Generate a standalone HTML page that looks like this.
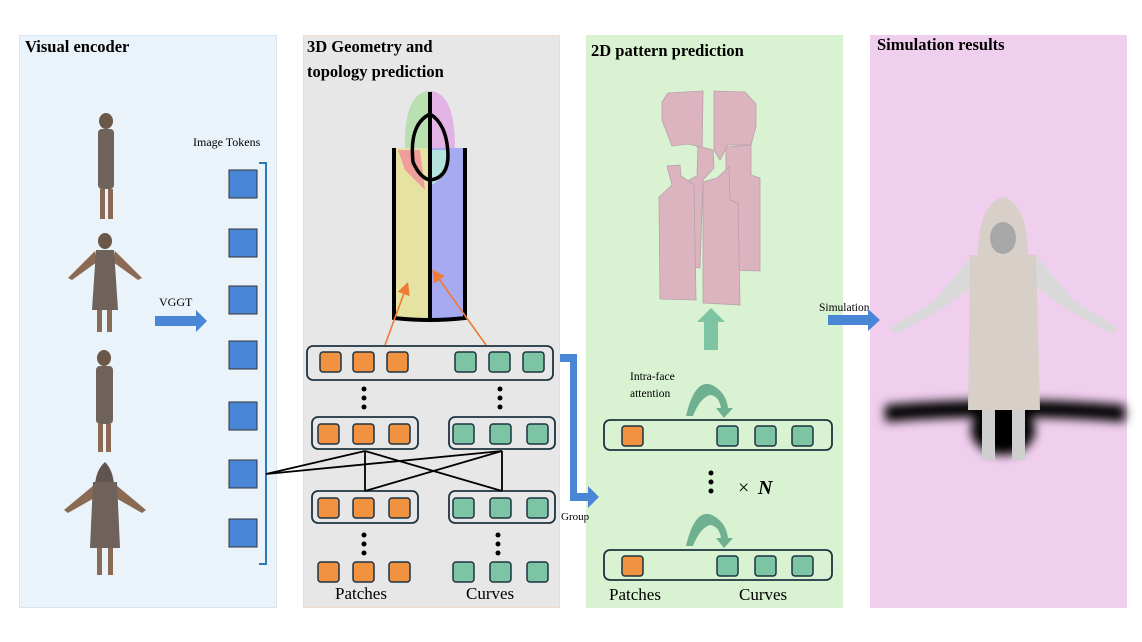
<!DOCTYPE html>
<html><head><meta charset="utf-8"><style>
html,body{margin:0;padding:0;background:#fff;}
svg{display:block;font-family:"Liberation Serif",serif;}
</style></head><body>
<svg width="1142" height="642" viewBox="0 0 1142 642" xmlns="http://www.w3.org/2000/svg">
<defs>
<marker id="oa" markerWidth="8" markerHeight="8" refX="6" refY="4" orient="auto"><path d="M0,0 L8,4 L0,8 z" fill="#ee7b35"/></marker>
<filter id="bl" x="-20%" y="-50%" width="140%" height="200%"><feGaussianBlur stdDeviation="5"/></filter>
</defs>
<!-- panels -->
<rect x="19.5" y="35.5" width="257" height="572" fill="#eaf2fa" stroke="#d6e6f5"/>
<rect x="303.5" y="35.5" width="256" height="572" fill="#e7e7e7" stroke="#f7d9c8"/>
<rect x="586" y="35" width="257" height="573" fill="#d8f2d2"/>
<rect x="870" y="35" width="257" height="573" fill="#f0cfee"/>
<g font-weight="bold" font-size="16.5" fill="#000">
<text x="25" y="52">Visual encoder</text>
<text x="307" y="52">3D Geometry and</text>
<text x="307" y="77">topology prediction</text>
<text x="591" y="56">2D pattern prediction</text>
<text x="877" y="50">Simulation results</text>
</g>
<!-- left figures -->
<g fill="#6e625a">
<ellipse cx="106" cy="121" rx="7" ry="8" fill="#6b5848"/>
<rect x="98" y="129" width="16" height="60" rx="4"/>
<rect x="100" y="189" width="5" height="30" fill="#8a6a55"/>
<rect x="108" y="189" width="5" height="30" fill="#8a6a55"/>
<ellipse cx="105" cy="241" rx="7" ry="8" fill="#6b5848"/>
<path d="M95,251 L68,278 L72,280 L97,262 Z" fill="#8a6a55"/>
<path d="M115,251 L142,278 L138,280 L113,262 Z" fill="#8a6a55"/>
<path d="M96,250 L114,250 L118,310 L92,310 Z"/>
<rect x="97" y="310" width="5" height="22" fill="#8a6a55"/>
<rect x="107" y="310" width="5" height="22" fill="#8a6a55"/>
<ellipse cx="104" cy="358" rx="7" ry="8" fill="#6b5848"/>
<rect x="96" y="366" width="17" height="58" rx="4"/>
<rect x="98" y="424" width="5" height="28" fill="#8a6a55"/>
<rect x="106" y="424" width="5" height="28" fill="#8a6a55"/>
<path d="M105,462 Q96,470 95,485 L114,485 Q113,470 105,462 Z" fill="#5f5450"/>
<path d="M94,485 L64,510 L68,513 L96,497 Z" fill="#8a6a55"/>
<path d="M116,485 L146,510 L142,513 L114,497 Z" fill="#8a6a55"/>
<path d="M93,482 L117,482 L120,548 L90,548 Z"/>
<rect x="97" y="548" width="5" height="27" fill="#8a6a55"/>
<rect x="108" y="548" width="5" height="27" fill="#8a6a55"/>
</g>
<text x="193" y="146" font-size="12">Image Tokens</text>
<!-- VGGT arrow -->
<text x="159" y="306" font-size="12">VGGT</text>
<path d="M155,316 L196,316 L196,310 L207,321 L196,332 L196,326 L155,326 Z" fill="#4a86d6"/>
<!-- image tokens -->
<g fill="#4a86d6" stroke="#333" stroke-width="1">
<rect x="229" y="170" width="28" height="28"/>
<rect x="229" y="229" width="28" height="28"/>
<rect x="229" y="286" width="28" height="28"/>
<rect x="229" y="341" width="28" height="28"/>
<rect x="229" y="402" width="28" height="28"/>
<rect x="229" y="460" width="28" height="28"/>
<rect x="229" y="519" width="28" height="28"/>
</g>
<path d="M259,163 L266,163 L266,564 L259,564" fill="none" stroke="#2a7bb5" stroke-width="2"/>
<!-- 3D garment -->
<g>
<path d="M405,148 Q404,92 430,91 Q455,92 455,148 Z" fill="#e3b3e5"/>
<path d="M405,148 Q404,92 430,91 L430,148 Z" fill="#b8e0b0"/>
<path d="M394,148 L430,148 L430,318 L395,318 Z" fill="#e6e3a2"/>
<path d="M430,148 L465,148 L465,318 L430,318 Z" fill="#a6aaf0"/>
<path d="M398,150 L420,150 L425,190 L405,170 Z" fill="#ee9f9b"/>
<path d="M430,150 L448,150 L445,175 L432,185 Z" fill="#b4e3dc"/>
<path d="M394,148 L394,318 Q430,322 465,318 L465,148" fill="none" stroke="#000" stroke-width="4"/>
<path d="M430,92 L430,318" stroke="#000" stroke-width="4"/>
<path d="M430,114 Q409,124 413,162 Q420,178 430,180 Q448,178 448,155 Q447,124 430,114" fill="none" stroke="#000" stroke-width="3.5"/>
<line x1="385" y1="345" x2="407" y2="285" stroke="#ee7b35" stroke-width="1.6" marker-end="url(#oa)"/>
<line x1="486" y1="345" x2="434" y2="272" stroke="#ee7b35" stroke-width="1.6" marker-end="url(#oa)"/>
</g>
<!-- token boxes panel 2 -->
<g fill="none" stroke="#1d3340" stroke-width="1.8">
<rect x="307" y="346" width="246" height="34" rx="6"/>
<rect x="312" y="417" width="106" height="32" rx="6"/>
<rect x="449" y="417" width="106" height="32" rx="6"/>
<rect x="312" y="491" width="106" height="32" rx="6"/>
<rect x="449" y="491" width="106" height="32" rx="6"/>
</g>
<g stroke="#1d3340" stroke-width="1.5">
<g fill="#f0923f">
<rect x="320" y="352" width="21" height="20" rx="3"/><rect x="353" y="352" width="21" height="20" rx="3"/><rect x="387" y="352" width="21" height="20" rx="3"/>
<rect x="318" y="424" width="21" height="20" rx="3"/><rect x="353" y="424" width="21" height="20" rx="3"/><rect x="389" y="424" width="21" height="20" rx="3"/>
<rect x="318" y="498" width="21" height="20" rx="3"/><rect x="353" y="498" width="21" height="20" rx="3"/><rect x="389" y="498" width="21" height="20" rx="3"/>
<rect x="318" y="562" width="21" height="20" rx="3"/><rect x="353" y="562" width="21" height="20" rx="3"/><rect x="389" y="562" width="21" height="20" rx="3"/>
<rect x="622" y="426" width="21" height="20" rx="3"/>
<rect x="622" y="556" width="21" height="20" rx="3"/>
</g>
<g fill="#7dc4a4">
<rect x="455" y="352" width="21" height="20" rx="3"/><rect x="489" y="352" width="21" height="20" rx="3"/><rect x="523" y="352" width="21" height="20" rx="3"/>
<rect x="453" y="424" width="21" height="20" rx="3"/><rect x="490" y="424" width="21" height="20" rx="3"/><rect x="527" y="424" width="21" height="20" rx="3"/>
<rect x="453" y="498" width="21" height="20" rx="3"/><rect x="490" y="498" width="21" height="20" rx="3"/><rect x="527" y="498" width="21" height="20" rx="3"/>
<rect x="453" y="562" width="21" height="20" rx="3"/><rect x="490" y="562" width="21" height="20" rx="3"/><rect x="527" y="562" width="21" height="20" rx="3"/>
<rect x="717" y="426" width="21" height="20" rx="3"/><rect x="755" y="426" width="21" height="20" rx="3"/><rect x="792" y="426" width="21" height="20" rx="3"/>
<rect x="717" y="556" width="21" height="20" rx="3"/><rect x="755" y="556" width="21" height="20" rx="3"/><rect x="792" y="556" width="21" height="20" rx="3"/>
</g>
</g>
<g fill="#000">
<circle cx="364" cy="389" r="2.5"/><circle cx="364" cy="398" r="2.5"/><circle cx="364" cy="407" r="2.5"/>
<circle cx="500" cy="389" r="2.5"/><circle cx="500" cy="398" r="2.5"/><circle cx="500" cy="407" r="2.5"/>
<circle cx="364" cy="535" r="2.5"/><circle cx="364" cy="544" r="2.5"/><circle cx="364" cy="553" r="2.5"/>
<circle cx="498" cy="535" r="2.5"/><circle cx="498" cy="544" r="2.5"/><circle cx="498" cy="553" r="2.5"/>
<circle cx="711" cy="473" r="2.5"/><circle cx="711" cy="482" r="2.5"/><circle cx="711" cy="491" r="2.5"/>
</g>
<!-- connections -->
<g stroke="#000" stroke-width="1.8" fill="none">
<path d="M266,474 L365,451 M266,474 L502,451"/>
<path d="M365,451 L365,491 M502,451 L502,491 M365,451 L502,491 M502,451 L365,491"/>
</g>
<text x="335" y="599" font-size="17">Patches</text>
<text x="466" y="599" font-size="17">Curves</text>
<!-- group arrow -->
<path d="M560,354 L577,354 L577,493 L588,493 L588,486 L599,497 L588,508 L588,501 L570,501 L570,362 L560,362 Z" fill="#4a86d6"/>
<text x="561" y="520" font-size="11">Group</text>
<!-- pattern pieces -->
<g fill="#dcb4c0" stroke="#b8a0a8" stroke-width="0.8">
<path d="M668,93 L703,91 L702,158 L697,146 L688,144 L672,146 L662,120 L662,102 Z"/>
<path d="M714,91 L745,92 L756,104 L756,126 L751,145 L728,145 L720,160 L714,150 Z"/>
<path d="M726,147 L751,145 L751,175 L760,178 L760,271 L726,270 Z"/>
<path d="M698,146 L713,150 L714,168 L703,180 L700,268 L689,267 L689,180 L697,176 Z"/>
<path d="M667,166 L680,165 L681,176 L694,185 L696,300 L660,299 L659,197 L672,185 Z"/>
<path d="M703,182 L717,178 L729,167 L730,200 L738,203 L740,305 L703,303 Z"/>
</g>
<path d="M704,350 L718,350 L718,322 L725,322 L711,308 L697,322 L704,322 Z" fill="#7dc4a4"/>
<!-- panel 3 boxes -->
<g fill="none" stroke="#1d3340" stroke-width="1.8">
<rect x="604" y="420" width="228" height="30" rx="6"/>
<rect x="604" y="550" width="228" height="30" rx="6"/>
</g>
<g fill="#6fb091">
<path d="M686,416 Q695,378 712,385 Q726,392 728,408 L733,408 L724,418 L716,408 L721,408 Q719,396 710,395 Q700,398 693,416 Z"/>
<path d="M686,546 Q695,508 712,515 Q726,522 728,538 L733,538 L724,548 L716,538 L721,538 Q719,526 710,525 Q700,528 693,546 Z"/>
</g>
<text x="630" y="380" font-size="11.5">Intra-face</text>
<text x="630" y="397" font-size="11.5">attention</text>
<text x="738" y="494" font-size="20">×</text>
<text x="758" y="494" font-size="20" font-weight="bold" font-style="italic">N</text>
<text x="609" y="600" font-size="17">Patches</text>
<text x="739" y="600" font-size="17">Curves</text>
<!-- simulation arrow -->
<text x="819" y="311" font-size="11.5">Simulation</text>
<path d="M828,315 L868,315 L868,309 L880,320 L868,331 L868,325 L828,325 Z" fill="#4a86d6"/>
<!-- sim figure -->
<g>
<g filter="url(#bl)" fill="#000">
<path d="M885,405 Q1000,395 1125,405 L1125,422 Q1000,412 885,422 Z"/>
<ellipse cx="1003" cy="430" rx="32" ry="25"/>
</g>
<path d="M972,255 L935,300 L890,328 L896,334 L940,310 L975,285 Z" fill="#d9d9d9"/>
<path d="M1036,255 L1073,300 L1118,328 L1112,334 L1068,310 L1033,285 Z" fill="#d9d9d9"/>
<rect x="982" y="405" width="13" height="55" fill="#cfcfcf"/>
<rect x="1012" y="405" width="13" height="55" fill="#cfcfcf"/>
<path d="M978,265 Q976,205 1003,197 Q1030,205 1028,265 Z" fill="#d8d0c8"/>
<ellipse cx="1003" cy="238" rx="13" ry="16" fill="#a8a8a8"/>
<path d="M970,255 L1036,255 L1040,410 L968,410 Z" fill="#d8d0c8"/>
</g>
</svg>
</body></html>
